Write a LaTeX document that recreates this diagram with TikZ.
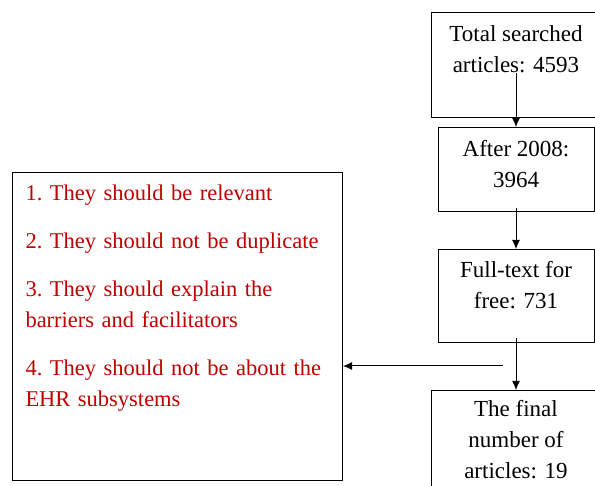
\documentclass[tikz,border=0pt]{standalone}
\usepackage{fontspec}
\setmainfont{Liberation Serif}
\usepackage{color}
\definecolor{critred}{RGB}{192,0,0}
\usepackage{tikz}
\usetikzlibrary{calc,arrows.meta}
\tikzstyle{stage}=[draw,line width=1pt,align=center,inner ysep=0pt,anchor=north,font=\fontsize{23}{31}\selectfont]
\tikzstyle{flow}=[line width=1pt,-{Latex[length=9pt,width=8pt]}]

\begin{document}
\begin{tikzpicture}[x=1pt,y=-1pt]
\clip (0,0) rectangle (595,486);
% flow of the search, top to bottom
\node [stage, minimum width=170pt, text height=60pt, text depth=45pt] (total) at (516,12) {Total searched\\articles: 4593};
\node [stage, minimum width=156pt, text height=60pt, text depth=24pt] (after) at (516,127) {After 2008:\\3964};
\node [stage, minimum width=156pt, text height=59pt, text depth=34pt] (fulltext) at (516,249) {Full-text for\\free: 731};
\node [stage, minimum width=170pt, text height=88pt, text depth=22pt] (final) at (516,390) {The final\\number of\\articles: 19};
% exclusion criteria
\node [draw, line width=1pt, anchor=north west, text width=304pt, inner xsep=13pt, inner ysep=0pt,
  text height=28pt, text depth=280pt, align=left, text=critred,
  font=\fontsize{22.5}{31}\selectfont\frenchspacing] (criteria) at (12,172)
  {1. They should be relevant\\[17pt]
   2. They should not be duplicate\\[17pt]
   3. They should explain the\\barriers and facilitators\\[17pt]
   4. They should not be about the\\EHR subsystems};
\coordinate (branch) at (503,366);

\draw [flow] ([yshift=45pt]total.south) -- (after.north);
\draw [flow] ([yshift=4pt]after.south) -- (fulltext.north);
\draw [flow] ([yshift=5pt]fulltext.south) -- (final.north);
\draw [flow] (branch) -- (branch -| criteria.east);
\end{tikzpicture}
\end{document}
